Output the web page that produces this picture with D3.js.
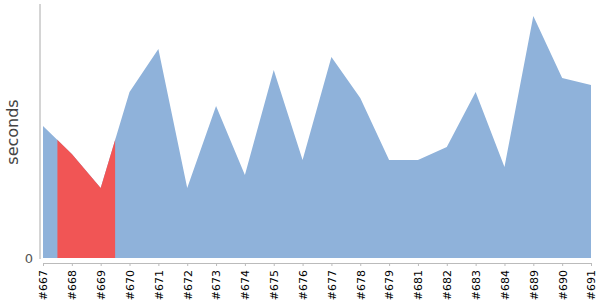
<!DOCTYPE html>
<html>
<head>
<meta charset="utf-8">
<script src="https://cdn.jsdelivr.net/npm/d3@7"></script>
<style>
  body { margin: 0; background: #fff; }
  svg { display: block; font-family: "DejaVu Sans", sans-serif; }
</style>
</head>
<body>
<svg id="chart" width="600" height="300"></svg>
<script>
// build ids and durations
var builds = ['#667', '#668', '#669', '#670', '#671', '#672', '#673', '#674', '#675', '#676',
              '#677', '#678', '#679', '#681', '#682', '#683', '#684', '#689', '#690', '#691'];
var seconds = [132, 104, 70, 166, 209, 70, 152, 83, 188, 98,
               201, 160, 98, 98, 111, 166, 91, 242, 180, 173];
var highlighted = ['#668', '#669'];
var yTicks = [0];

var margin = {top: 4, right: 9, bottom: 42, left: 43},
    width = 600 - margin.left - margin.right,
    height = 300 - margin.top - margin.bottom;

var svg = d3.select('#chart');
var g = svg.append('g').attr('transform', 'translate(' + margin.left + ',' + margin.top + ')');

var x = d3.scalePoint().domain(builds).range([0, width]);
var y = d3.scaleLinear().domain([0, 254]).range([height, 0]);

var data = builds.map(function(b, i) { return {build: b, value: seconds[i]}; });

var area = d3.area()
  .x(function(d) { return x(d.build); })
  .y0(y(0))
  .y1(function(d) { return y(d.value); });

g.append('path')
  .datum(data)
  .attr('fill', '#8fb2da')
  .attr('d', area);

// red part: half a step either side of the highlighted builds
var step = x.step();
var hx0 = x(highlighted[0]) - step / 2,
    hx1 = x(highlighted[highlighted.length - 1]) + step / 2;

g.append('clipPath').attr('id', 'hl')
  .append('rect')
  .attr('x', hx0).attr('y', 0)
  .attr('width', hx1 - hx0).attr('height', height);

g.append('path')
  .datum(data)
  .attr('fill', '#f15555')
  .attr('clip-path', 'url(#hl)')
  .attr('d', area);

// y axis: just a line and the zero
g.append('line')
  .attr('x1', -3).attr('x2', -3)
  .attr('y1', 0).attr('y2', height + 1)
  .attr('stroke', '#aaa');

g.selectAll('.ytick')
  .data(yTicks)
  .enter().append('text')
  .attr('x', -10)
  .attr('y', function(d) { return y(d); })
  .attr('dy', '0.35em')
  .attr('text-anchor', 'end')
  .attr('fill', '#555')
  .style('font-size', '13px')
  .text(function(d) { return d; });

svg.append('text')
  .attr('transform', 'translate(18,' + (margin.top + 128) + ') rotate(-90)')
  .attr('text-anchor', 'middle')
  .attr('fill', '#444')
  .style('font-size', '16px')
  .text('seconds');

// x axis
var xAxis = d3.axisBottom(x).tickSize(3).tickSizeOuter(0);
var xg = g.append('g')
  .attr('transform', 'translate(0,' + (height + 5) + ')')
  .call(xAxis);
xg.select('.domain').attr('stroke', '#bbb');
xg.selectAll('.tick line').attr('stroke', '#bbb');
xg.selectAll('.tick text')
  .attr('transform', 'rotate(-90)')
  .attr('x', -7)
  .attr('y', 0)
  .attr('dy', '0.35em')
  .attr('text-anchor', 'end')
  .attr('fill', '#000')
  .style('font-size', '11px')
  .style('font-family', '"DejaVu Sans", sans-serif');
</script>
</body>
</html>
